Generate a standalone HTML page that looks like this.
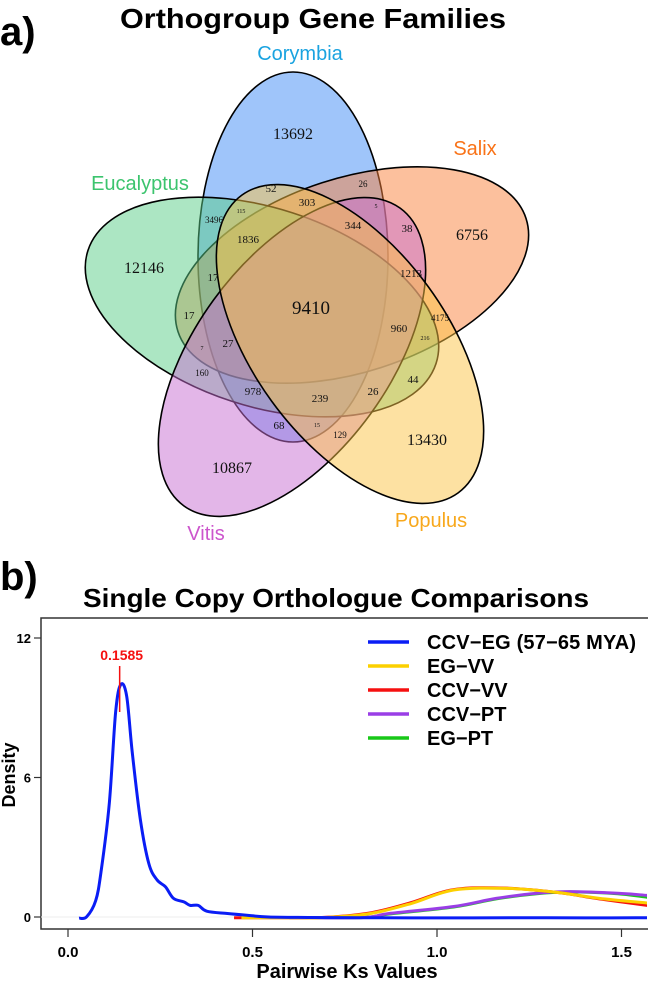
<!DOCTYPE html>
<html><head><meta charset="utf-8"><style>
html,body{margin:0;padding:0;background:#fff;}
svg{display:block;font-family:"Liberation Sans",sans-serif;}
.num{font-family:"Liberation Serif",serif;fill:#111;text-anchor:middle;}
</style></head><body>
<svg width="648" height="982" viewBox="0 0 648 982">
<text x="0" y="45" font-size="40" font-weight="bold">a)</text>
<text x="313" y="28" font-size="28" font-weight="bold" text-anchor="middle" textLength="386" lengthAdjust="spacingAndGlyphs">Orthogroup Gene Families</text>
<g stroke="#000" stroke-width="1.6">
<ellipse cx="293" cy="257" rx="95" ry="185" fill="rgba(64,140,245,0.5)"/>
<ellipse cx="352" cy="275" rx="183" ry="97" transform="rotate(-18 352 275)" fill="rgba(250,130,60,0.5)"/>
<ellipse cx="262" cy="307" rx="183" ry="99" transform="rotate(18 262 307)" fill="rgba(90,205,135,0.5)"/>
<ellipse cx="292" cy="357" rx="184" ry="97" transform="rotate(-54 292 357)" fill="rgba(200,110,210,0.5)"/>
<ellipse cx="350" cy="344" rx="184" ry="97" transform="rotate(54 350 344)" fill="rgba(252,195,70,0.5)"/>
</g>
<g font-size="20">
<text x="300" y="60" fill="#1aa3e0" text-anchor="middle">Corymbia</text>
<text x="475" y="155" fill="#f97318" text-anchor="middle">Salix</text>
<text x="140" y="190" fill="#3cc46e" text-anchor="middle">Eucalyptus</text>
<text x="206" y="540" fill="#cc55cc" text-anchor="middle">Vitis</text>
<text x="431" y="527" fill="#f8a81c" text-anchor="middle">Populus</text>
</g>
<g class="num">
<text x="293" y="139" font-size="16">13692</text>
<text x="144" y="273" font-size="16">12146</text>
<text x="472" y="240" font-size="16">6756</text>
<text x="427" y="445" font-size="16">13430</text>
<text x="232" y="473" font-size="16">10867</text>
<text x="311" y="314" font-size="19">9410</text>
<text x="271" y="192" font-size="11">52</text>
<text x="307" y="206" font-size="11">303</text>
<text x="248" y="243" font-size="11">1836</text>
<text x="213" y="281" font-size="11">17</text>
<text x="189" y="319" font-size="11">17</text>
<text x="353" y="229" font-size="11">344</text>
<text x="407" y="232" font-size="11">38</text>
<text x="411" y="277" font-size="11">1213</text>
<text x="399" y="332" font-size="11">960</text>
<text x="228" y="347" font-size="11">27</text>
<text x="253" y="395" font-size="11">978</text>
<text x="320" y="402" font-size="11">239</text>
<text x="373" y="395" font-size="11">26</text>
<text x="413" y="383" font-size="11">44</text>
<text x="279" y="429" font-size="11">68</text>
<text x="214" y="223" font-size="9">3496</text>
<text x="363" y="187" font-size="9">26</text>
<text x="440" y="321" font-size="9">4175</text>
<text x="202" y="376" font-size="9">160</text>
<text x="340" y="438" font-size="9">129</text>
<text x="241" y="213" font-size="6">115</text>
<text x="376" y="208" font-size="6">5</text>
<text x="425" y="340" font-size="6">216</text>
<text x="202" y="350" font-size="6">7</text>
<text x="317" y="427" font-size="6">15</text>
</g>

<text x="0" y="590" font-size="40" font-weight="bold">b)</text>
<text x="336" y="607" font-size="26" font-weight="bold" text-anchor="middle" textLength="506" lengthAdjust="spacingAndGlyphs">Single Copy Orthologue Comparisons</text>
<g id="chart"></g>
</svg>
<script>
const xTicks = [0.0, 0.5, 1.0, 1.5];
const xTickLabels = ["0.0", "0.5", "1.0", "1.5"];
const yTicks = [0, 6, 12];
const yTickLabels = ["0", "6", "12"];
const seriesNames = ["CCV\u2212EG (57\u221265 MYA)", "EG\u2212VV", "CCV\u2212VV", "CCV\u2212PT", "EG\u2212PT"];
const seriesColors = ["#0a1df5", "#fcd000", "#f51010", "#9a3ee6", "#18c818"];
const ccvEgKs = [0.03,0.05,0.075,0.09,0.112,0.129,0.143,0.159,0.174,0.196,0.219,0.241,0.264,0.286,0.314,0.331,0.353,0.376,0.432,0.488,0.544,0.65,0.8,1.0,1.2,1.4,1.6];
const ccvEgD  = [-0.05,0,0.7,2.0,4.9,8.8,10.0,9.5,7.1,4.2,2.3,1.6,1.3,0.8,0.65,0.5,0.5,0.25,0.15,0.07,0,-0.02,-0.03,-0.04,-0.03,-0.04,-0.03];
const egVvKs = [0.47,0.6,0.7,0.82,0.93,1.045,1.19,1.33,1.44,1.57,1.6];
const egVvD  = [-0.03,-0.03,-0.02,0.15,0.58,1.16,1.23,1.05,0.8,0.6,0.55];
const ccvVvKs = [0.45,0.6,0.7,0.82,0.93,1.045,1.19,1.33,1.44,1.57,1.6];
const ccvVvD  = [-0.03,-0.03,-0.01,0.18,0.62,1.18,1.24,1.05,0.78,0.5,0.45];
const ccvPtKs = [0.6,0.8,0.87,1.045,1.16,1.27,1.36,1.49,1.57,1.6];
const ccvPtD  = [-0.03,-0.02,0.15,0.45,0.8,1.02,1.09,1.02,0.93,0.9];
const egPtKs = [0.6,0.8,0.87,1.045,1.16,1.27,1.36,1.49,1.57,1.6];
const egPtD  = [-0.03,-0.02,0.13,0.43,0.78,1.0,1.08,1.0,0.85,0.82];
const peakKs = 0.14, peakLabel = "0.1585";

const NS = "http://www.w3.org/2000/svg";
const g = document.getElementById("chart");
const L = 41, R = 647, T = 618, B = 929;
const xs = v => 68 + (v - 0) * 369;
const ys = v => 917 - v * 23.25;
function mk(tag, attrs, parent) {
  const e = document.createElementNS(NS, tag);
  for (const k in attrs) e.setAttribute(k, attrs[k]);
  (parent || g).appendChild(e);
  return e;
}
const clip = mk("clipPath", {id: "pc"});
mk("rect", {x: L, y: T, width: R - L, height: B - T}, clip);

const frame = mk("rect", {x: L, y: T, width: R - L + 5, height: B - T, fill: "none", stroke: "#333", "stroke-width": 1.5});



const zl = mk("line", {x1: L, x2: R, y1: ys(0), y2: ys(0), stroke: "#eee", "stroke-width": 1});



yTicks.forEach((t, i) => {
  const tk = mk("line", {x1: L - 7, x2: L, y1: ys(t), y2: ys(t), stroke: "#333", "stroke-width": 1.2});
  
  
  const lb = mk("text", {x: L - 10, y: ys(t) + 5, "font-size": 13, "font-weight": "bold", "text-anchor": "end"});
  lb.textContent = yTickLabels[i];
  
  
});
xTicks.forEach((t, i) => {
  const tk = mk("line", {x1: xs(t), x2: xs(t), y1: B, y2: B + 8, stroke: "#333", "stroke-width": 1.2});
  
  
  const lb = mk("text", {x: xs(t), y: 957, "font-size": 15, "font-weight": "bold", "text-anchor": "middle"});
  lb.textContent = xTickLabels[i];
  
  
});
const xt = mk("text", {x: 347, y: 978, "font-size": 20, "font-weight": "bold", "text-anchor": "middle"});
xt.textContent = "Pairwise Ks Values";


const yt = mk("text", {x: 0, y: 0, "font-size": 18, "font-weight": "bold", "text-anchor": "middle", transform: "translate(15,775) rotate(-90)"});
yt.textContent = "Density";



const series = [[egPtKs, egPtD, 4], [ccvPtKs, ccvPtD, 3], [ccvVvKs, ccvVvD, 2], [egVvKs, egVvD, 1], [ccvEgKs, ccvEgD, 0]];
series.forEach(([xa, ya, ci]) => {
  const pts = xa.map((v, i) => [xs(v), ys(ya[i])]);
  let d = "M" + pts[0][0] + "," + pts[0][1];
  for (let i = 1; i < pts.length; i++) {
    const p0 = pts[i - 2] || pts[i - 1], p1 = pts[i - 1], p2 = pts[i], p3 = pts[i + 1] || p2;
    const c1 = [p1[0] + (p2[0] - p0[0]) / 6, p1[1] + (p2[1] - p0[1]) / 6];
    const c2 = [p2[0] - (p3[0] - p1[0]) / 6, p2[1] - (p3[1] - p1[1]) / 6];
    d += " C" + c1 + " " + c2 + " " + p2;
  }
  const path = mk("path", {d: d, fill: "none", stroke: seriesColors[ci], "stroke-width": 3, "clip-path": "url(#pc)", "stroke-linejoin": "round"});
  
  
});

const pk = mk("line", {x1: xs(peakKs), x2: xs(peakKs), y1: 666, y2: 712, stroke: "#f51010", "stroke-width": 1.5});


const pl = mk("text", {x: xs(peakKs) + 2, y: 660, "font-size": 14, "font-weight": "bold", fill: "#f51010", "text-anchor": "middle"});
pl.textContent = peakLabel;



seriesNames.forEach((n, i) => {
  const y = 642 + i * 24;
  const ln = mk("line", {x1: 368, x2: 409, y1: y, y2: y, stroke: seriesColors[i], "stroke-width": 3.5});
  
  
  const tx = mk("text", {x: 427, y: y + 7, "font-size": 20, "font-weight": "bold"});
  tx.textContent = n;
  
  
  if (i === 0) tx.setAttribute("textLength", "209");
});
</script>
</body></html>
